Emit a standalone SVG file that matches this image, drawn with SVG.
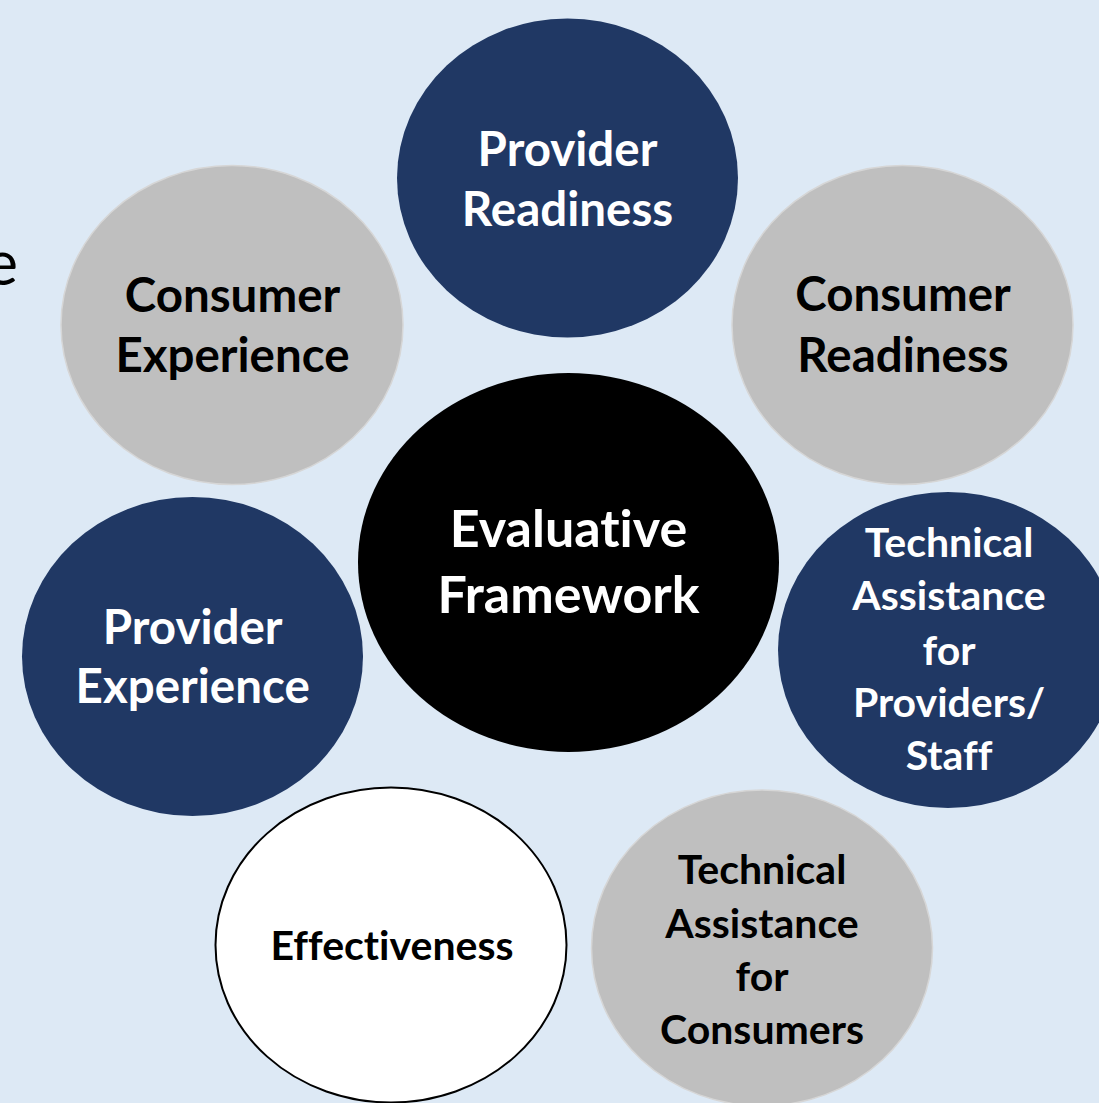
<svg xmlns="http://www.w3.org/2000/svg" width="1099" height="1103" viewBox="0 0 1099 1103">
<style>
.navy{fill:#203864}
.gray{fill:#bfbfbf;stroke:#d6d6d6;stroke-width:1.5}
.black{fill:#000}
.white{fill:#fff;stroke:#000;stroke-width:2}
text{font-family:Lato,"Open Sans","Liberation Sans",sans-serif;font-weight:bold;text-anchor:middle;font-variant-ligatures:none;font-feature-settings:"liga" 0,"dlig" 0}
.lt{fill:#fff}
.dk{fill:#000}
.big{font-size:47.5px}
.mid{font-size:41px}
</style>
<rect width="1099" height="1103" fill="#dde9f5"/>
<text x="18" y="285" style="font-weight:normal;text-anchor:end;font-size:62px" class="dk">e</text>
<g id="connectors"></g>
<g id="provider-readiness">
<ellipse class="navy" cx="567.5" cy="178" rx="170.5" ry="159.5"/>
<text class="lt big" x="567.5" y="166">Provider</text>
<text class="lt big" x="567.5" y="226">Readiness</text>
</g>
<g id="consumer-experience">
<ellipse class="gray" cx="232" cy="325" rx="171" ry="159.5"/>
<text class="dk big" x="232.5" y="312">Consumer</text>
<text class="dk big" x="232.5" y="372">Experience</text>
</g>
<g id="consumer-readiness">
<ellipse class="gray" cx="902.5" cy="325" rx="170.5" ry="159.5"/>
<text class="dk big" x="903" y="311">Consumer</text>
<text class="dk big" x="903" y="372">Readiness</text>
</g>
<g id="evaluative-framework">
<ellipse class="black" cx="568.5" cy="562.5" rx="210.5" ry="189.5"/>
<text class="lt" style="font-size:52px" x="568.5" y="547">Evaluative</text>
<text class="lt" style="font-size:52px" x="568.5" y="613">Framework</text>
</g>
<g id="provider-experience">
<ellipse class="navy" cx="192.5" cy="656.5" rx="170.5" ry="159.5"/>
<text class="lt big" x="192.7" y="644">Provider</text>
<text class="lt big" x="192.7" y="703">Experience</text>
</g>
<g id="ta-providers">
<ellipse class="navy" cx="948" cy="650" rx="170" ry="158"/>
<text class="lt mid" x="949" y="557">Technical</text>
<text class="lt mid" x="949" y="610">Assistance</text>
<text class="lt mid" x="949" y="665">for</text>
<text class="lt mid" x="949" y="717">Providers/</text>
<text class="lt mid" x="949" y="770">Staff</text>
</g>
<g id="effectiveness">
<ellipse class="white" cx="391" cy="945" rx="175.5" ry="157.5"/>
<text class="dk mid" x="392" y="960">Effectiveness</text>
</g>
<g id="ta-consumers">
<ellipse class="gray" cx="762" cy="948" rx="170.5" ry="158"/>
<text class="dk mid" x="762" y="884">Technical</text>
<text class="dk mid" x="762" y="938">Assistance</text>
<text class="dk mid" x="762" y="991">for</text>
<text class="dk mid" x="762" y="1044">Consumers</text>
</g>
</svg>
